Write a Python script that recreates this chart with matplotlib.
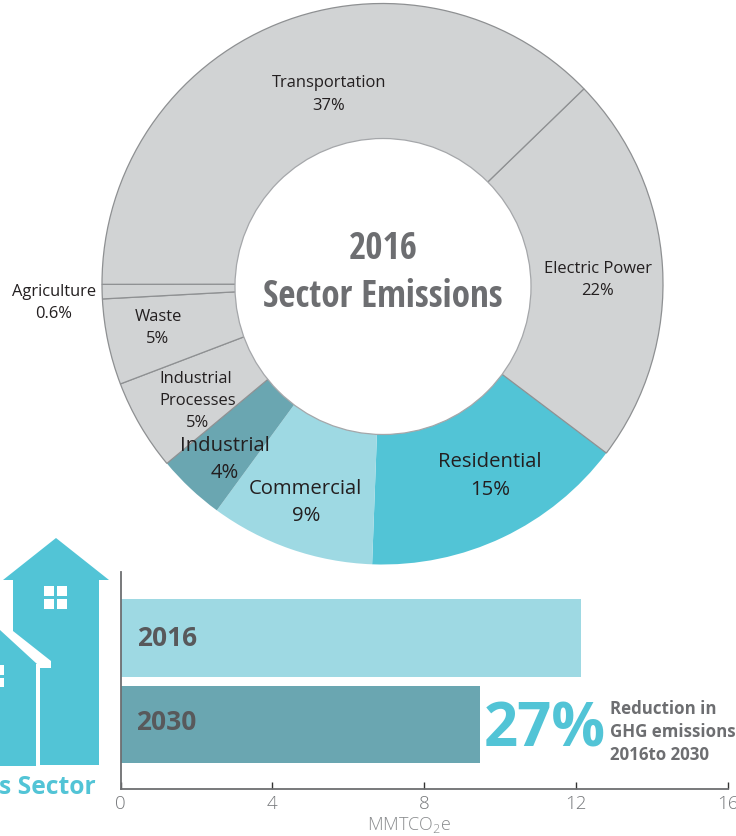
import matplotlib
matplotlib.use("Agg")
import matplotlib.pyplot as plt
from matplotlib.patches import Polygon, Rectangle, Circle

# ---- data ----
sectors = ["Electric Power", "Residential", "Commercial", "Industrial",
           "Industrial Processes", "Waste", "Agriculture", "Transportation"]
shares = [22.55, 15.3, 9.47, 3.9, 5.25, 4.95, 0.83, 37.78]   # slice sizes
sector_colors = ["#D1D3D4", "#52C4D6", "#9ED9E3", "#6AA6B1",
                 "#D1D3D4", "#D1D3D4", "#D1D3D4", "#D1D3D4"]
years = ["2016", "2030"]
emissions = [12.13, 9.47]
year_colors = ["#9ED9E3", "#6AA6B1"]
x_ticks = [0, 4, 8, 12, 16]

W, H = 736, 836
plt.rcParams["font.family"] = ["Open Sans", "DejaVu Sans"]
plt.rcParams["mathtext.default"] = "regular"

fig = plt.figure(figsize=(W / 100, H / 100), dpi=100, facecolor="white")

def px_axes(l, t, r, b):
    return fig.add_axes([l / W, 1 - b / H, (r - l) / W, (b - t) / H])

# ---- donut ----
CX, CY_, R = 382.5, 284, 280.5
ax = px_axes(CX - R, CY_ - R, CX + R, CY_ + R)
wedges, _ = ax.pie(shares, colors=sector_colors, startangle=44.1, counterclock=False, radius=1,
                   wedgeprops=dict(width=1 - 135 / R))
for w, c in zip(wedges, sector_colors):
    if c == "#D1D3D4":
        w.set_edgecolor("#8E9092"); w.set_linewidth(0.9); w.set_zorder(3)
    else:
        w.set_edgecolor("none"); w.set_zorder(2)
# Hole of the ring sits a little below the centre of the outer circle
ax.add_patch(Circle((0.5 / R, -2.5 / R), 148 / R, fc="white", ec="#A5A7AA", lw=0.9, zorder=5))
ax.set_xlim(-1, 1); ax.set_ylim(-1, 1); ax.set_aspect("equal")
ax.axis("off")

# ---- bars ----
bx = px_axes(120.6, 572, 727.6, 789)
bx.barh([1, 0], emissions, height=0.9, color=year_colors)
bx.set_xlim(0, 16); bx.set_ylim(-0.746, 1.763)
bx.set_yticks([])
bx.set_xticks(x_ticks)
bx.patch.set_alpha(0)
for s in ("top", "right"):
    bx.spines[s].set_visible(False)
for s in ("left", "bottom"):
    bx.spines[s].set_color("#6D6E71"); bx.spines[s].set_linewidth(1.3)
bx.tick_params(axis="x", direction="in", length=5, width=1, color="#333333",
               labelcolor="#77797C", pad=4)
for t in bx.get_xticklabels():
    t.set_fontweight(300); t.set_fontsize(13.5)
bx.set_xlabel("MMTCO$_2$e", fontsize=13, color="#8A8C8E", fontweight=300, va="center")
bx.xaxis.set_label_coords((409.5 - 120.6) / 607, (789 - 825) / 217)

# ---- overlay in pixel coordinates: texts and house icon ----
ov = fig.add_axes([0, 0, 1, 1]); ov.set_xlim(0, W); ov.set_ylim(H, 0); ov.axis("off")
ov.patch.set_alpha(0)

def lab(x, y, s, size=11.9, color="#231F20", **kw):
    ov.text(x, y, s, fontsize=size, color=color, ha="center", va="center", **kw)

S, L = 11.9, 14.6
label_specs = [
    (329, 83, "Transportation", S), (329, 106, "37%", S),
    (598, 269, "Electric Power", S), (598, 291, "22%", S),
    (490, 462, "Residential", L), (490, 490, "15%", L),
    (305, 489, "Commercial", L), (306, 516, "9%", L),
    (225, 446, "Industrial", L), (225, 473, "4%", L),
    (196, 379, "Industrial", S), (198, 401, "Processes", S), (198, 423, "5%", S),
    (158, 317, "Waste", S), (158, 339, "5%", S),
    (54, 292, "Agriculture", S), (54, 314, "0.6%", S),
]
for x, y, s, size in label_specs:
    lab(x, y, s, size)

TITLE = "#6D6E71"
lab(383, 249, "2016", 26.7, TITLE, family="Open Sans Condensed", fontweight="bold")
lab(383, 297, "Sector Emissions", 26.7, TITLE, family="Open Sans Condensed", fontweight="bold")

lab(167, 638.5, "2016", 19, "#58595B", fontweight="bold")
lab(166, 722.5, "2030", 19, "#58595B", fontweight="bold")
lab(545, 731, "27%", 43, "#52C4D6", fontweight="bold")
for y, s in zip((709, 732, 755), ("Reduction in", "GHG emissions", "2016to 2030")):
    ov.text(610, y, s, fontsize=12.2, color=TITLE, fontweight="bold", ha="left", va="center")

CY = "#52C4D6"
ov.add_patch(Polygon([(56, 538), (109, 580), (99, 580), (99, 765), (13, 765), (13, 580), (3, 580)],
                     closed=True, fc=CY, ec="none"))
for (x, y, w, h) in [(44.3, 585.7, 10, 10), (57.3, 585.7, 10, 10), (44.3, 599, 10, 10), (57.3, 599, 10, 10)]:
    ov.add_patch(Rectangle((x, y), w, h, fc="white", ec="none"))
# small house, with a white outline
ov.add_patch(Polygon([(-5, 620), (13, 631), (51, 661), (51, 668), (40, 668), (40, 768), (-5, 768)],
                     closed=True, fc="white", ec="none", joinstyle="round"))
ov.add_patch(Polygon([(-5, 626), (0, 630), (37, 664), (36, 664), (36, 766), (-5, 766)],
                     closed=True, fc=CY, ec="none"))
for (x, y, w, h) in [(-6, 665, 10.3, 10), (-6, 677.7, 10.3, 9.5)]:
    ov.add_patch(Rectangle((x, y), w, h, fc="white", ec="none"))
ov.text(-1, 787, "s Sector", fontsize=17.7, color=CY, fontweight="bold", ha="left", va="center")

fig.savefig("out.png", dpi=100)
